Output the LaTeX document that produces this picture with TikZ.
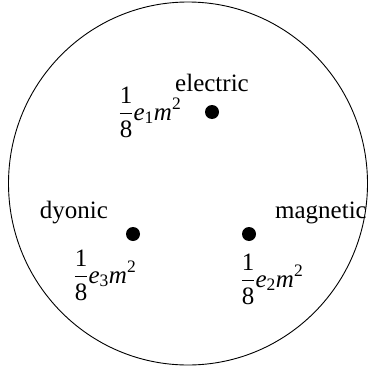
\documentclass[tikz,border=0pt]{standalone}
\usepackage{amsmath}
\usepackage{fontspec}
\setmainfont{Liberation Serif}
\newcommand{\chargelabel}[1]{$\displaystyle\frac{\text{1}}{\text{8}}\text{\itshape e}_{\text{#1}}\text{\itshape m}^{\text{2}}$}
\tikzset{
  dotnode/.style={circle,fill=black,inner sep=0pt,minimum size=14pt},
  namelabel/.style={inner sep=0pt,anchor=base,font=\fontsize{25}{30}\selectfont},
  chargelbl/.style={inner sep=0pt,font=\fontsize{25}{30}\selectfont},
}
\begin{document}
\begin{tikzpicture}[x=1pt,y=-1pt]
\useasboundingbox (0,0) rectangle (367,369);
\draw[line width=0.9pt] (188,183.5) ellipse [x radius=179.5, y radius=181.5];
\node[dotnode] (e) at (212,112) {};
\node[dotnode] (d) at (133,234) {};
\node[dotnode] (m) at (249,234) {};
\node[namelabel] (el) at (212,91) {electric};
\node[namelabel] (dl) at (74,218) {dyonic};
\node[namelabel] (ml) at (321,218) {magnetic};
\node[chargelbl] (ec) at (150,112) {\chargelabel{1}};
\node[chargelbl] (dc) at (105,275) {\chargelabel{3}};
\node[chargelbl] (mc) at (272,279) {\chargelabel{2}};
\end{tikzpicture}
\end{document}
